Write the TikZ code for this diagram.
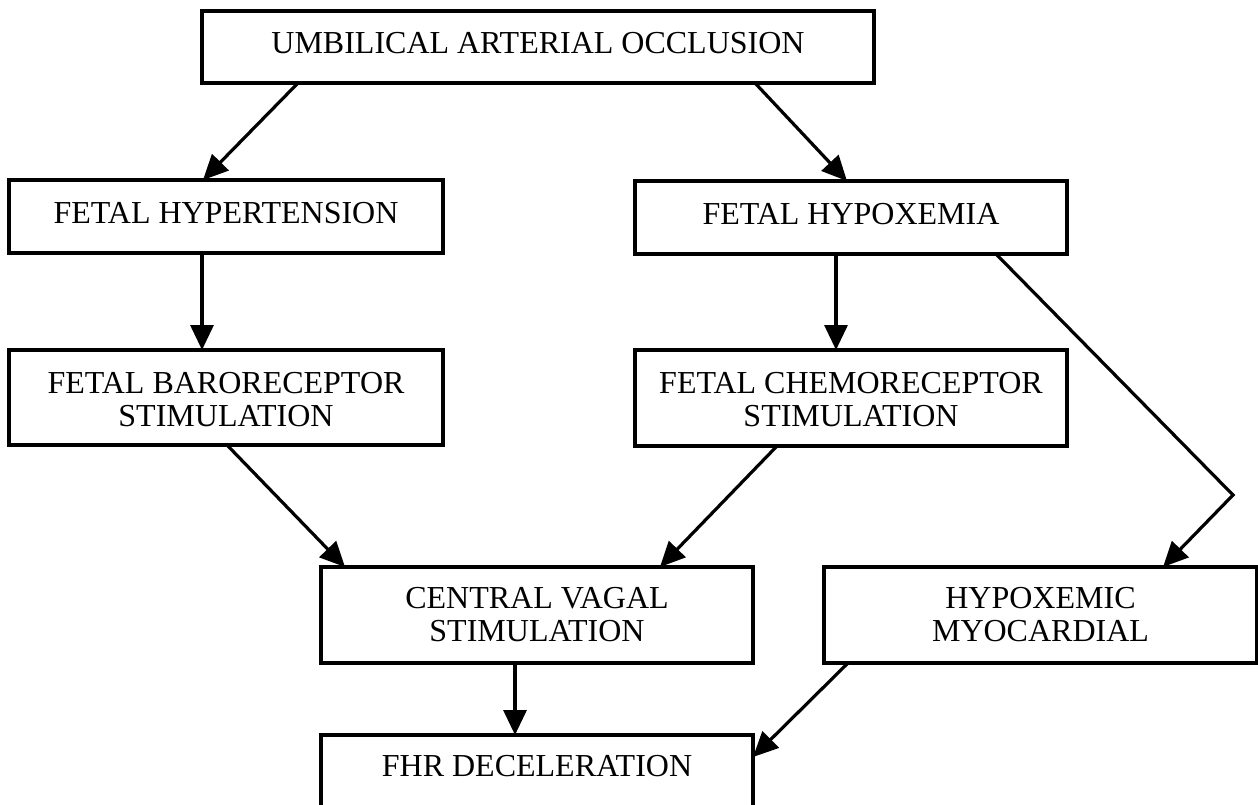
\documentclass[tikz,border=0pt]{standalone}
\usepackage{fontspec}
\setmainfont{Liberation Serif}
\usetikzlibrary{arrows.meta,calc}
\newcommand{\bxt}[4]{\parbox[c][#2][t]{#1}{\fontsize{32}{33}\selectfont\centering\vspace{#3}#4\par}}
\tikzset{
  box/.style={draw, line width=4pt, inner sep=0pt, outer sep=0pt},
  arr/.style={line width=3.2pt, -{Triangle[length=25pt,width=23pt]}}
}
\begin{document}
\begin{tikzpicture}[x=1pt,y=1pt]
\fill[white] (0,0) rectangle (1258,-804);
\useasboundingbox (0,0) rectangle (1258,-804);
\begin{scope}
\clip (0,0) rectangle (1258,-804);
\node[box] (top) at (538,-47) {\bxt{672pt}{72pt}{21pt}{UMBILICAL ARTERIAL OCCLUSION}};
\node[box] (hyt) at (226,-216.5) {\bxt{434pt}{73pt}{22pt}{FETAL HYPERTENSION}};
\node[box] (hyx) at (851,-217.5) {\bxt{432pt}{73pt}{22pt}{FETAL HYPOXEMIA}};
\node[box] (baro) at (226,-397.5) {\bxt{434pt}{95pt}{22pt}{FETAL BARORECEPTOR\\STIMULATION}};
\node[box] (chemo) at (851,-398) {\bxt{432pt}{96pt}{22pt}{FETAL CHEMORECEPTOR\\STIMULATION}};
\node[box] (vagal) at (537,-615) {\bxt{432pt}{96pt}{20pt}{CENTRAL VAGAL\\STIMULATION}};
\node[box] (myo) at (1040.5,-615) {\bxt{433pt}{96pt}{20pt}{HYPOXEMIC\\MYOCARDIAL}};
\node[box] (fhr) at (537,-782.5) {\bxt{432pt}{95pt}{20pt}{FHR DECELERATION}};
\coordinate (bend) at (1233,-495);
\draw[arr] ($(top.south west)+(96,0)$) -- ($(hyt.north west)+(194,0)$);
\draw[arr] ($(top.south east)+(-119,0)$) -- ($(hyx.north west)+(212,0)$);
\draw[arr] ($(hyt.south)+(-24,0)$) -- ($(baro.north)+(-24,0)$);
\draw[arr] ($(hyx.south)+(-15,0)$) -- ($(chemo.north)+(-15,0)$);
\draw[arr] ($(hyx.south east)+(-71,0)$) -- (bend) -- ($(myo.north west)+(339,0)$);
\draw[arr] ($(baro.south west)+(218,0)$) -- ($(vagal.north west)+(24,0)$);
\draw[arr] ($(chemo.south west)+(142,0)$) -- ($(vagal.north east)+(-93,0)$);
\draw[arr] ($(vagal.south)+(-22,0)$) -- ($(fhr.north)+(-22,0)$);
\draw[arr] ($(myo.south west)+(24,0)$) -- ($(fhr.north east)+(0,-22)$);
\end{scope}
\end{tikzpicture}
\end{document}
